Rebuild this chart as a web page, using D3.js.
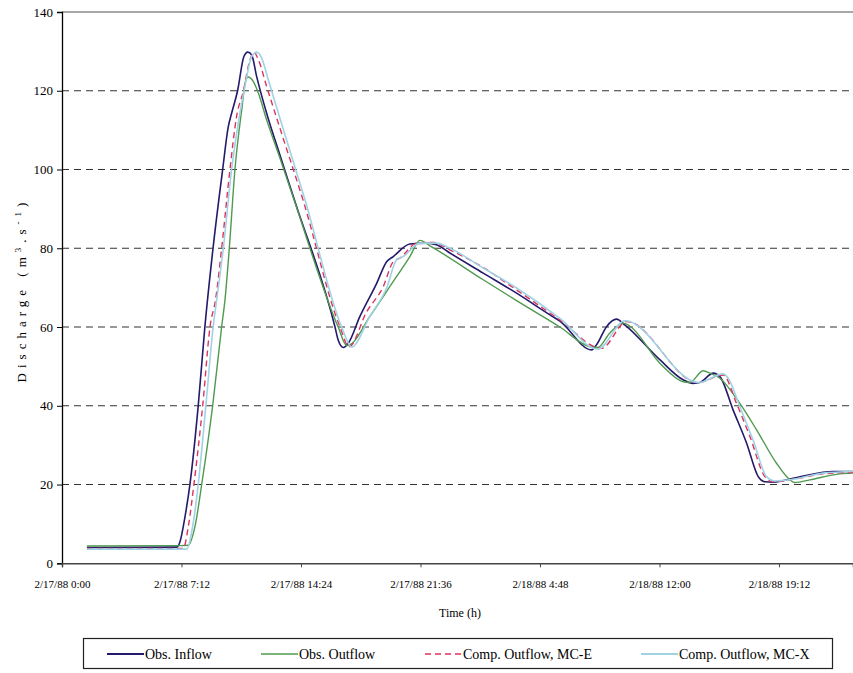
<!DOCTYPE html>
<html>
<head>
<meta charset="utf-8">
<script src="https://cdn.jsdelivr.net/npm/d3@7/dist/d3.min.js"></script>
<style>
  html, body { margin: 0; padding: 0; background: #fff; }
  svg { display: block; }
  text { font-family: "Liberation Serif", "Times New Roman", serif; fill: #000; }
</style>
</head>
<body>
<svg id="chart" width="853" height="673"></svg>
<script>
// Hours since 2/17/88 0:00 and discharge (m3/s) for each series
const inflowT = [1.5, 6.9, 7.11, 7.41, 7.71, 8.21, 8.61, 9.1, 9.68, 10.02, 10.22, 10.58, 10.96, 11.19, 11.43, 11.73, 12.33, 13.13, 14.04, 16.45, 16.64, 16.95, 17.25, 17.95, 18.96, 19.56, 19.96, 20.96, 21.97, 22.57, 23.37, 25.38, 27.39, 29.4, 30.0, 31.91, 32.21, 32.81, 33.41, 33.92, 36.02, 37.43, 38.03, 38.43, 39.24, 39.64, 40.44, 41.25, 41.95, 42.35, 42.85, 44.46, 46.46, 47.7];
const inflowQ = [4.0, 4.1, 5.5, 11.8, 20.1, 40.1, 60.1, 80, 100, 110.9, 114.3, 120, 128.7, 129.8, 129.1, 123.6, 114.3, 103.7, 91.8, 60, 56.7, 54.8, 55.9, 62.7, 71.1, 76.6, 77.9, 81.1, 81.3, 80.9, 78.8, 73.7, 68.6, 63.1, 61.5, 54.2, 55.5, 60.1, 62, 60.5, 51.7, 46.6, 45.7, 45.9, 48.3, 47.4, 38.9, 30.5, 22, 20.7, 20.6, 22, 23.3, 23.3];

const outflowT = [1.5, 7.11, 7.61, 8.01, 8.42, 9.08, 9.62, 9.82, 10.08, 10.42, 10.83, 11.08, 11.22, 11.52, 11.83, 12.33, 13.13, 13.98, 16.64, 17.15, 17.35, 18.55, 19.76, 20.96, 21.57, 22.17, 25.38, 27.39, 30.0, 31.81, 32.29, 33.01, 33.81, 34.22, 36.02, 37.43, 37.83, 38.63, 39.04, 39.64, 40.84, 41.85, 43.05, 43.86, 44.16, 45.06, 46.87, 47.7];
const outflowQ = [4.4, 4.5, 4.6, 9.3, 20.1, 40.1, 60.1, 66.9, 80, 100, 115.2, 122.8, 123.5, 122.4, 119.4, 112.6, 102.9, 92.3, 60, 55.3, 55.5, 62.7, 70.3, 77.9, 82.0, 80.6, 72.0, 66.7, 60, 55, 54.8, 58.5, 61, 60.2, 50.8, 46.1, 45.9, 48.9, 48.3, 47, 40.6, 33.9, 25.4, 21.2, 20.5, 21.2, 22.7, 22.9];

const mcET = [1.5, 7.31, 7.61, 7.95, 8.48, 8.92, 9.25, 9.62, 10.12, 10.52, 10.92, 11.33, 11.57, 11.83, 12.33, 13.13, 14.52, 16.75, 17.29, 18.36, 19.36, 19.96, 20.36, 21.37, 22.37, 23.37, 25.38, 27.39, 30.0, 32.51, 34.02, 38.31, 39.84, 40.64, 41.45, 42.35, 42.85, 43.86, 45.86, 47.7];
const mcEQ = [3.8, 3.8, 9.3, 20.1, 40.1, 60.1, 66.9, 80, 100, 113.5, 119.8, 127.9, 129.8, 127.9, 121.1, 110.5, 92.3, 60, 55, 63.9, 70.3, 76.6, 77.5, 81.3, 81.5, 79.6, 75.1, 69.4, 61.8, 54.6, 61.4, 45.9, 47.8, 40.6, 32.2, 22, 20.7, 21.2, 22.7, 23.1];

const mcXT = [1.5, 7.51, 7.87, 8.21, 8.67, 9.11, 9.32, 9.72, 10.22, 10.62, 11.02, 11.43, 11.73, 12.03, 12.43, 13.13, 14.64, 16.85, 17.45, 18.55, 19.56, 20.16, 20.56, 21.57, 22.57, 23.37, 25.38, 27.39, 30.0, 32.29, 33.92, 38.36, 39.84, 40.14, 40.84, 41.64, 42.45, 42.95, 43.86, 45.86, 47.7];
const mcXQ = [3.6, 3.6, 9.3, 20.1, 40.1, 60.1, 66.9, 80, 100, 111.8, 121.1, 128.7, 129.8, 128.3, 122.8, 113, 92.3, 60, 54.9, 62.7, 69.9, 77.1, 77.9, 81.3, 81.3, 80, 75, 69.9, 62.2, 54.4, 61.6, 45.9, 48.1, 47, 39.8, 31.3, 22, 20.9, 21.2, 22.9, 23.3];

const xTickHours = [0, 7.2, 14.4, 21.6, 28.8, 36, 43.2];
const xTickLabels = ["2/17/88 0:00", "2/17/88 7:12", "2/17/88 14:24", "2/17/88 21:36", "2/18/88 4:48", "2/18/88 12:00", "2/18/88 19:12"];
const yTicks = [0, 20, 40, 60, 80, 100, 120, 140];
const seriesNames = ["Obs. Inflow", "Obs. Outflow", "Comp. Outflow, MC-E", "Comp. Outflow, MC-X"];

const series = [
  { name: seriesNames[0], t: inflowT, q: inflowQ, color: "#231a6b", width: 1.6, dash: null },
  { name: seriesNames[1], t: outflowT, q: outflowQ, color: "#4f9a4f", width: 1.4, dash: null },
  { name: seriesNames[2], t: mcET, q: mcEQ, color: "#e0325e", width: 1.4, dash: "6,4" },
  { name: seriesNames[3], t: mcXT, q: mcXQ, color: "#9fd3e4", width: 1.6, dash: null }
];

const svg = d3.select("#chart");
const plotL = 62, plotT = 12, plotB = 563.3, plotR = 853;

const x = d3.scaleLinear().domain([0, 47.66]).range([plotL, plotR]);
const y = d3.scaleLinear().domain([0, 140]).range([plotB, plotT]);

// horizontal dashed grid lines
svg.append("g").selectAll("line")
  .data(yTicks.filter(v => v > 0 && v < 140))
  .join("line")
  .attr("x1", plotL).attr("x2", plotR)
  .attr("y1", d => y(d)).attr("y2", d => y(d))
  .attr("stroke", "#333").attr("stroke-width", 1.1)
  .attr("stroke-dasharray", "7,5");

// top frame line
svg.append("line")
  .attr("x1", plotL).attr("x2", plotR + 5)
  .attr("y1", y(140)).attr("y2", y(140))
  .attr("stroke", "#8a8a8a").attr("stroke-width", 1.5);

// series
svg.append("clipPath").attr("id", "plotClip")
  .append("rect").attr("x", plotL).attr("y", 0).attr("width", plotR - plotL).attr("height", plotB);

const line = d3.line()
  .x(d => x(d[0]))
  .y(d => y(d[1]))
  .curve(d3.curveMonotoneX);

const plot = svg.append("g").attr("clip-path", "url(#plotClip)");
series.forEach(s => {
  plot.append("path")
    .datum(s.t.map((t, i) => [t, s.q[i]]))
    .attr("fill", "none")
    .attr("stroke", s.color)
    .attr("stroke-width", s.width)
    .attr("stroke-linejoin", "round")
    .attr("stroke-dasharray", s.dash)
    .attr("d", line);
});

// y axis
const yAxis = svg.append("g")
  .attr("transform", `translate(${plotL},0)`)
  .call(d3.axisLeft(y).tickValues(yTicks).tickSize(5).tickPadding(4).tickFormat(d3.format("d")));
yAxis.select(".domain").attr("stroke", "#000").attr("stroke-width", 1.3);
yAxis.selectAll(".tick line").attr("stroke", "#000");
yAxis.selectAll("text").style("font-size", "13px").style("font-family", "Liberation Serif");

// x axis
const xAxis = svg.append("g")
  .attr("transform", `translate(0,${plotB})`)
  .call(d3.axisBottom(x).tickValues(xTickHours).tickSize(4).tickPadding(13)
    .tickFormat((d, i) => xTickLabels[i]));
xAxis.select(".domain").attr("stroke", "#444").attr("stroke-width", 1.5);
xAxis.selectAll(".tick line").attr("stroke", "#444");
xAxis.selectAll("text").style("font-size", "11px").style("font-family", "Liberation Serif");

// axis titles
svg.append("text")
  .attr("x", 460).attr("y", 617)
  .attr("text-anchor", "middle")
  .style("font-size", "12px")
  .text("Time (h)");

const yTitle = svg.append("text")
  .attr("transform", "translate(26,290) rotate(-90)")
  .attr("text-anchor", "middle")
  .style("font-size", "13px")
  .style("letter-spacing", "5px");
yTitle.append("tspan").text("Discharge (m");
yTitle.append("tspan").attr("dy", -5).style("font-size", "9px").text("3");
yTitle.append("tspan").attr("dy", 5).text(".s");
yTitle.append("tspan").attr("dy", -5).style("font-size", "9px").text("-1");
yTitle.append("tspan").attr("dy", 5).text(")");

// legend
const legend = svg.append("g");
legend.append("rect")
  .attr("x", 83.5).attr("y", 638.5).attr("width", 749).attr("height", 30)
  .attr("fill", "#fff").attr("stroke", "#222").attr("stroke-width", 1.2);
const legendX = [107, 261, 425, 641];
series.forEach((s, i) => {
  const lx = legendX[i];
  legend.append("line")
    .attr("x1", lx).attr("x2", lx + 37)
    .attr("y1", 654).attr("y2", 654)
    .attr("stroke", s.color).attr("stroke-width", s.width + 0.2)
    .attr("stroke-dasharray", s.dash);
  legend.append("text")
    .attr("x", lx + 38).attr("y", 659)
    .style("font-size", "14px")
    .text(s.name);
});
</script>
</body>
</html>
